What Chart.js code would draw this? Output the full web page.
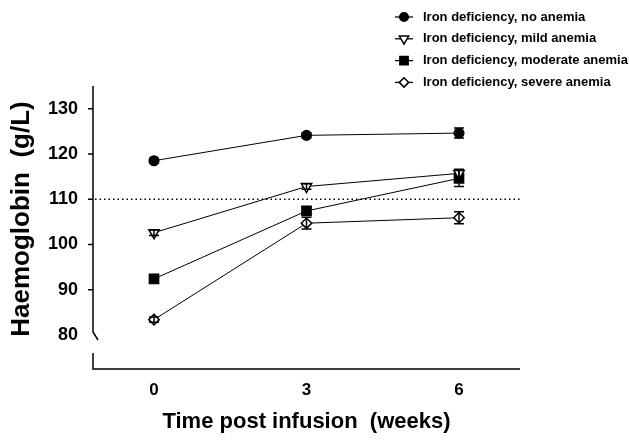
<!DOCTYPE html>
<html>
<head>
<meta charset="utf-8">
<script src="https://cdn.jsdelivr.net/npm/chart.js@4/dist/chart.umd.min.js"></script>
<style>
  html, body { margin: 0; padding: 0; background: #fff; }
  #wrap { width: 629px; height: 440px; }
</style>
</head>
<body>
<div id="wrap"><canvas id="hb" width="629" height="440"></canvas></div>
<script>
// weeks post infusion
const weeks = [0, 3, 6];
const yTicks = [80, 90, 100, 110, 120, 130];
const threshold = 110;

// mean haemoglobin (g/L) per group
const noAnemia = [118.5, 124.1, 124.6];
const mildAnemia = [102.6, 112.8, 115.7];
const moderateAnemia = [92.4, 107.4, 114.6];
const severeAnemia = [83.4, 104.7, 105.9];

// error bar half-widths
const noAnemiaErr = [0.5, 0.6, 1.1];
const mildAnemiaErr = [0.6, 0.6, 0.9];
const moderateAnemiaErr = [0.6, 0.9, 1.8];
const severeAnemiaErr = [0.6, 1.3, 1.3];

const labels = [
  'Iron deficiency, no anemia',
  'Iron deficiency, mild anemia',
  'Iron deficiency, moderate anemia',
  'Iron deficiency, severe anemia'
];

const FONT = '"Liberation Sans", Arial, Helvetica, sans-serif';

function pts(vals) {
  return vals.map((v, i) => ({ x: weeks[i], y: v }));
}

const groups = [
  { data: noAnemia, err: noAnemiaErr, style: 'circle', radius: 4.8, fill: '#000', rot: 0 },
  { data: mildAnemia, err: mildAnemiaErr, style: 'triangle', radius: 6, fill: '#fff', rot: 180 },
  { data: moderateAnemia, err: moderateAnemiaErr, style: 'rect', radius: 6.5, fill: '#000', rot: 0 },
  { data: severeAnemia, err: severeAnemiaErr, style: 'rectRot', radius: 5.2, fill: '#fff', rot: 0 }
];

const datasets = groups.map((g, i) => ({
  label: labels[i],
  data: pts(g.data),
  borderColor: '#000',
  borderWidth: 1,
  pointStyle: g.style,
  pointRadius: g.radius,
  pointRotation: g.rot,
  pointBackgroundColor: g.fill,
  pointBorderColor: '#000',
  pointBorderWidth: 1.5,
  pointHoverRadius: g.radius,
  tension: 0,
  errs: g.err
}));

// error bars, dotted reference line, broken axes, legend
const extras = {
  id: 'extras',
  beforeDatasetsDraw(chart) {
    const { ctx, chartArea: a, scales: { y } } = chart;
    ctx.save();
    ctx.strokeStyle = '#000';
    ctx.lineWidth = 1.5;
    ctx.setLineDash([1.5, 3]);
    const ty = y.getPixelForValue(threshold);
    ctx.beginPath();
    ctx.moveTo(a.left + 2, ty);
    ctx.lineTo(a.right, ty);
    ctx.stroke();
    ctx.restore();
  },
  afterDatasetsDraw(chart) {
    const { ctx, scales: { x, y } } = chart;
    ctx.save();
    ctx.strokeStyle = '#000';
    ctx.lineWidth = 1.5;
    chart.data.datasets.forEach(ds => {
      ds.data.forEach((p, i) => {
        const e = ds.errs[i];
        const px = x.getPixelForValue(p.x);
        const top = y.getPixelForValue(p.y + e);
        const bot = y.getPixelForValue(p.y - e);
        ctx.beginPath();
        ctx.moveTo(px, top); ctx.lineTo(px, bot);
        ctx.moveTo(px - 5, top); ctx.lineTo(px + 5, top);
        ctx.moveTo(px - 5, bot); ctx.lineTo(px + 5, bot);
        ctx.stroke();
      });
    });
    ctx.restore();
  },
  afterDraw(chart) {
    const { ctx, chartArea: a, scales: { y } } = chart;
    ctx.save();
    ctx.strokeStyle = '#000';
    ctx.lineWidth = 1.5;
    // y axis with break under 80
    const y80 = y.getPixelForValue(yTicks[0]);
    ctx.beginPath();
    ctx.moveTo(a.left, a.top);
    ctx.lineTo(a.left, y80 - 3);
    ctx.lineTo(a.left + 5, y80 + 5);
    yTicks.slice(1).forEach(v => {
      const ty = y.getPixelForValue(v);
      ctx.moveTo(a.left - 5, ty);
      ctx.lineTo(a.left, ty);
    });
    ctx.stroke();
    // x axis
    const xb = a.bottom + 17;
    ctx.beginPath();
    ctx.moveTo(a.left, a.bottom + 1);
    ctx.lineTo(a.left, xb);
    ctx.lineTo(a.right, xb);
    ctx.stroke();

    // legend
    const lx = 404, ly0 = 17, step = 21.8;
    chart.data.datasets.forEach((ds, i) => {
      const ry = ly0 + i * step;
      ctx.lineWidth = 1.3;
      ctx.beginPath();
      ctx.moveTo(lx - 9, ry); ctx.lineTo(lx + 9, ry);
      ctx.stroke();
      ctx.fillStyle = ds.pointBackgroundColor;
      ctx.strokeStyle = '#000';
      ctx.lineWidth = 1.5;
      Chart.helpers.drawPoint(ctx, {
        pointStyle: ds.pointStyle,
        radius: ds.pointRadius * 0.9,
        rotation: ds.pointRotation,
        borderWidth: 1.5
      }, lx, ry);
      ctx.fillStyle = '#000';
      ctx.font = 'bold 13px ' + FONT;
      ctx.textBaseline = 'middle';
      ctx.textAlign = 'left';
      ctx.fillText(ds.label, 423, ry);
    });
    ctx.restore();
  }
};

new Chart(document.getElementById('hb'), {
  type: 'line',
  data: { datasets },
  options: {
    responsive: false,
    animation: false,
    devicePixelRatio: 1,
    layout: { padding: { top: 86, right: 109, bottom: 0, left: 0 } },
    plugins: { legend: { display: false }, tooltip: { enabled: false } },
    scales: {
      x: {
        type: 'linear',
        min: -1.2,
        max: 7.2,
        afterBuildTicks: s => { s.ticks = weeks.map(v => ({ value: v })); },
        afterFit: s => { s.height = 88; },
        grid: { display: false },
        border: { display: false },
        ticks: {
          color: '#000',
          padding: 20,
          font: { family: FONT, size: 17, weight: 'bold' }
        },
        title: {
          display: true,
          text: 'Time post infusion  (weeks)',
          color: '#000',
          padding: { top: 0, bottom: 5 },
          font: { family: FONT, size: 22, weight: 'bold' }
        }
      },
      y: {
        min: 76.25,
        max: 135,
        afterBuildTicks: s => { s.ticks = yTicks.map(v => ({ value: v })); },
        afterFit: s => { s.width = 93; },
        grid: { display: false },
        border: { display: false },
        ticks: {
          color: '#000',
          padding: 7,
          font: { family: FONT, size: 18, weight: 'bold' }
        },
        title: {
          display: true,
          text: 'Haemoglobin  (g/L)',
          color: '#000',
          padding: { top: 6, bottom: 0 },
          font: { family: FONT, size: 26, weight: 'bold' }
        }
      }
    }
  },
  plugins: [extras]
});
</script>
</body>
</html>
